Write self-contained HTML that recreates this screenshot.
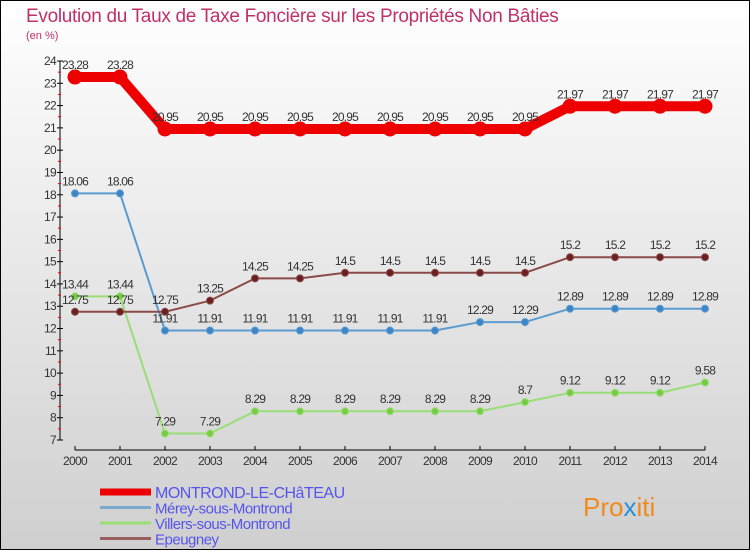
<!DOCTYPE html>
<html><head><meta charset="utf-8"><style>
body{margin:0;width:750px;height:550px;overflow:hidden;font-family:"Liberation Sans",sans-serif}
svg text{font-family:"Liberation Sans",sans-serif}
</style></head><body>
<svg id="c" width="750" height="550" xmlns="http://www.w3.org/2000/svg">
<defs><linearGradient id="bg" x1="0" y1="0" x2="0" y2="1"><stop offset="0" stop-color="#ffffff"/><stop offset="1" stop-color="#cfcfcf"/></linearGradient></defs>
<rect x="0.5" y="0.5" width="749" height="549" fill="url(#bg)" stroke="#000"/>
<text x="26" y="22" font-size="19" fill="#c0306a" letter-spacing="-0.3">Evolution du Taux de Taxe Foncière sur les Propriétés Non Bâties</text>
<text x="26" y="39" font-size="11" fill="#c0306a">(en %)</text>
<g id="axes"></g><g id="series"></g><g id="legend"></g>
<text x="583" y="516" font-size="26" fill="#f08a1c">Pro<tspan fill="#2a8fd8">x</tspan>iti</text>
</svg>
<script>
const years=[2000,2001,2002,2003,2004,2005,2006,2007,2008,2009,2010,2011,2012,2013,2014];
const montrond=[23.28,23.28,20.95,20.95,20.95,20.95,20.95,20.95,20.95,20.95,20.95,21.97,21.97,21.97,21.97];
const merey=[18.06,18.06,11.91,11.91,11.91,11.91,11.91,11.91,11.91,12.29,12.29,12.89,12.89,12.89,12.89];
const villers=[13.44,13.44,7.29,7.29,8.29,8.29,8.29,8.29,8.29,8.29,8.7,9.12,9.12,9.12,9.58];
const epeugney=[12.75,12.75,12.75,13.25,14.25,14.25,14.5,14.5,14.5,14.5,14.5,15.2,15.2,15.2,15.2];
const yTicks=[7,8,9,10,11,12,13,14,15,16,17,18,19,20,21,22,23,24];
const NS="http://www.w3.org/2000/svg";
const X=i=>75+i*45;
const Y=v=>440-(v-7)*(379/17);
function mk(t,a,p){const e=document.createElementNS(NS,t);for(const k in a)e.setAttribute(k,a[k]);p.appendChild(e);return e;}
const ax=document.getElementById('axes');
let l=mk('line',{x1:60,y1:Y(24),x2:60,y2:Y(7),stroke:'#000'},ax);


yTicks.forEach(v=>{
 mk('line',{x1:57,y1:Y(v),x2:63,y2:Y(v),stroke:'#000'},ax);
 if(v<24) mk('line',{x1:58,y1:Y(v+0.5),x2:61,y2:Y(v+0.5),stroke:'#e00'},ax);
 const t=mk('text',{x:56,y:Y(v)+4,'font-size':12,'text-anchor':'end',fill:'#333','letter-spacing':'-0.7'},ax);
 t.textContent=v;
 
 
});
l=mk('line',{x1:75,y1:450,x2:705,y2:450,stroke:'#000'},ax);


years.forEach((y,i)=>{
 mk('line',{x1:X(i),y1:446,x2:X(i),y2:450,stroke:'#000'},ax);
 const t=mk('text',{x:X(i),y:465,'font-size':12,'text-anchor':'middle',fill:'#333','letter-spacing':'-0.7'},ax);
 t.textContent=y;
 
 
});
const sg=document.getElementById('series');
function series(data,color,w,r,fill,name){
 const g=mk('g',{},sg);
 
 
 const p=mk('polyline',{points:data.map((v,i)=>X(i)+','+Y(v)).join(' '),fill:'none',stroke:color,'stroke-width':w,'stroke-linejoin':'round'},g);
 
 
 data.forEach((v,i)=>{
  const c=mk('circle',{cx:X(i),cy:Y(v),r:r,fill:fill,stroke:color,'stroke-width':1},g);
  
  
  const t=mk('text',{x:X(i),y:Y(v)-8,'font-size':12,'text-anchor':'middle',fill:'#333','letter-spacing':'-0.8'},g);
  t.textContent=v;
  
  
 });
}
series(villers,'#99dd77',2,3.5,'#77cc44','villers');
series(merey,'#5b9bcf',2,3.5,'#3d86c6','merey');
series(epeugney,'#8b4a4a',2,3.5,'#6b1f1f','epeugney');
series(montrond,'#ee0000',10,7,'#ee0000','montrond');
const lg=document.getElementById('legend');
const items=[['MONTROND-LE-CHâTEAU','#ee0000',7],['Mérey-sous-Montrond','#7aaad0',3],['Villers-sous-Montrond','#99dd77',3],['Epeugney','#9a6060',3]];
items.forEach((it,i)=>{
 const y=492+i*15.5;
 const g=mk('g',{},lg);
 
 
 mk('line',{x1:100,y1:y,x2:151,y2:y,stroke:it[1],'stroke-width':it[2]},g);
 const t=mk('text',{x:155,y:y+6,'font-size':i==0?16:15,fill:'#5555ee','letter-spacing':'-0.5'},g);
 t.textContent=it[0];
});
</script>
</body></html>
